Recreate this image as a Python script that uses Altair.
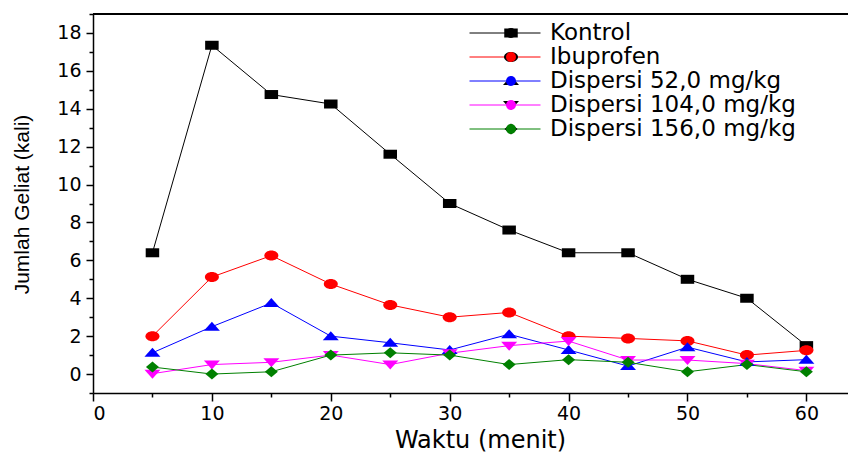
import altair as alt
import pandas as pd

# ---- data ----
waktu = [5, 10, 15, 20, 25, 30, 35, 40, 45, 50, 55, 60]
series_names = ["Kontrol", "Ibuprofen", "Dispersi 52,0 mg/kg",
                "Dispersi 104,0 mg/kg", "Dispersi 156,0 mg/kg"]
kontrol = [6.4, 17.35, 14.75, 14.25, 11.6, 9.0, 7.6, 6.4, 6.4, 5.0, 4.0, 1.5]
ibuprofen = [2.0, 5.12, 6.25, 4.75, 3.65, 3.0, 3.25, 2.0, 1.88, 1.75, 1.0, 1.25]
dispersi52 = [1.12, 2.5, 3.75, 2.0, 1.65, 1.27, 2.1, 1.27, 0.42, 1.42, 0.64, 0.76]
dispersi104 = [0.02, 0.5, 0.62, 1.0, 0.5, 1.1, 1.5, 1.74, 0.74, 0.74, 0.55, 0.18]
dispersi156 = [0.37, 0.0, 0.12, 1.0, 1.12, 1.0, 0.5, 0.76, 0.62, 0.12, 0.5, 0.12]

colors = ["#000000", "#ff0000", "#0000ff", "#ff00ff", "#008000"]
shapes = [
    "M-1.35,-0.9H1.35V0.9H-1.35Z",                               # square
    "M-1.4,0A1.4,1,0,1,1,1.4,0A1.4,1,0,1,1,-1.4,0Z",              # circle
    "M0,-1L1.6,0.8H-1.6Z",                                        # triangle up
    "M0,1L1.6,-0.8H-1.6Z",                                        # triangle down
    "M0,-1.1L1.3,0L0,1.1L-1.3,0Z",                                # diamond
]

x_ticks = [0, 5, 10, 15, 20, 25, 30, 35, 40, 45, 50, 55, 60]
y_ticks = list(range(-1, 20))
y_top = 19

values = [kontrol, ibuprofen, dispersi52, dispersi104, dispersi156]
rows = []
for name, vals in zip(series_names, values):
    for t, v in zip(waktu, vals):
        rows.append({"waktu": t, "jumlah": v, "series": name, "lab": name})
df = pd.DataFrame(rows)

x_scale = alt.Scale(domain=[0, 63.5], nice=False, zero=False)
y_scale = alt.Scale(domain=[-1, 19], nice=False, zero=False)

x_axis = alt.Axis(
    values=x_ticks, labelOverlap=False,
    labelExpr="datum.value % 10 == 0 ? datum.label : ''",
    tickSize={"condition": {"test": "datum.value % 10 != 0", "value": 4}, "value": 8},
    labelFont="DejaVu Sans", labelFontSize=19, labelPadding=3,
    title="Waktu (menit)", titleFont="DejaVu Sans", titleFontSize=24,
    titleFontWeight="normal", titleX=387, titleY=35,
    grid=False,
)
y_axis = alt.Axis(
    values=y_ticks, labelOverlap=False,
    labelExpr="(datum.value % 2 == 0 && datum.value >= 0) ? datum.label : ''",
    tickSize={"condition": {"test": "datum.value % 2 != 0", "value": 4}, "value": 7},
    labelFont="DejaVu Sans", labelFontSize=19, labelPadding=5,
    title="Jumlah Geliat (kali)", titleFont="Liberation Sans", titleFontSize=21,
    titleFontWeight="normal", titleX=-71, titleY=190, titleBaseline="middle",
    grid=False,
)

x_enc = alt.X("waktu:Q", scale=x_scale, axis=x_axis)
y_enc = alt.Y("jumlah:Q", scale=y_scale, axis=y_axis)

lines = alt.Chart(df).mark_line(strokeWidth=1).encode(
    x=x_enc,
    y=y_enc,
    stroke=alt.Stroke(
        "series:N", sort=series_names,
        scale=alt.Scale(range=colors),
        legend=alt.Legend(
            orient="none", legendX=376, legendY=7, title=None,
            symbolType="stroke", symbolSize=5041, symbolStrokeWidth=1,
            clipHeight=24, rowPadding=0, padding=0, symbolOffset=0,
            labelFont="DejaVu Sans", labelFontSize=23, labelOffset=9,
            labelLimit=500, labelColor="black",
        ),
    ),
)

leg_pts = dict(
    orient="none", legendX=406.5, legendY=7, title=None,
    symbolSize=100, symbolStrokeWidth=0, clipHeight=24, rowPadding=0,
    padding=0, symbolOffset=0, labelExpr="''", labelFontSize=23,
)

points = alt.Chart(df).mark_point(filled=True, size=100, opacity=1, strokeWidth=0).encode(
    x=x_enc,
    y=y_enc,
    fill=alt.Fill("lab:N", sort=series_names, scale=alt.Scale(range=colors),
                  legend=alt.Legend(**leg_pts)),
    shape=alt.Shape("lab:N", sort=series_names, scale=alt.Scale(range=shapes),
                    legend=alt.Legend(**leg_pts)),
)

top_line = alt.Chart(df).mark_rule(color="black", strokeWidth=1).encode(
    y=alt.Y(datum=y_top, type="quantitative", scale=y_scale, axis=y_axis)
)

chart = alt.layer(lines, points, top_line).properties(
    width=755, height=379,
    autosize="none",
    padding={"left": 85, "top": 6, "right": 0, "bottom": 61},
    background="white",
).configure_view(stroke=None).configure_axis(
    domainColor="black", domainWidth=1.5, tickColor="black", tickWidth=1.5,
    labelColor="black", titleColor="black",
)

chart.save("out.html", embed_options={"renderer": "svg", "actions": False})
